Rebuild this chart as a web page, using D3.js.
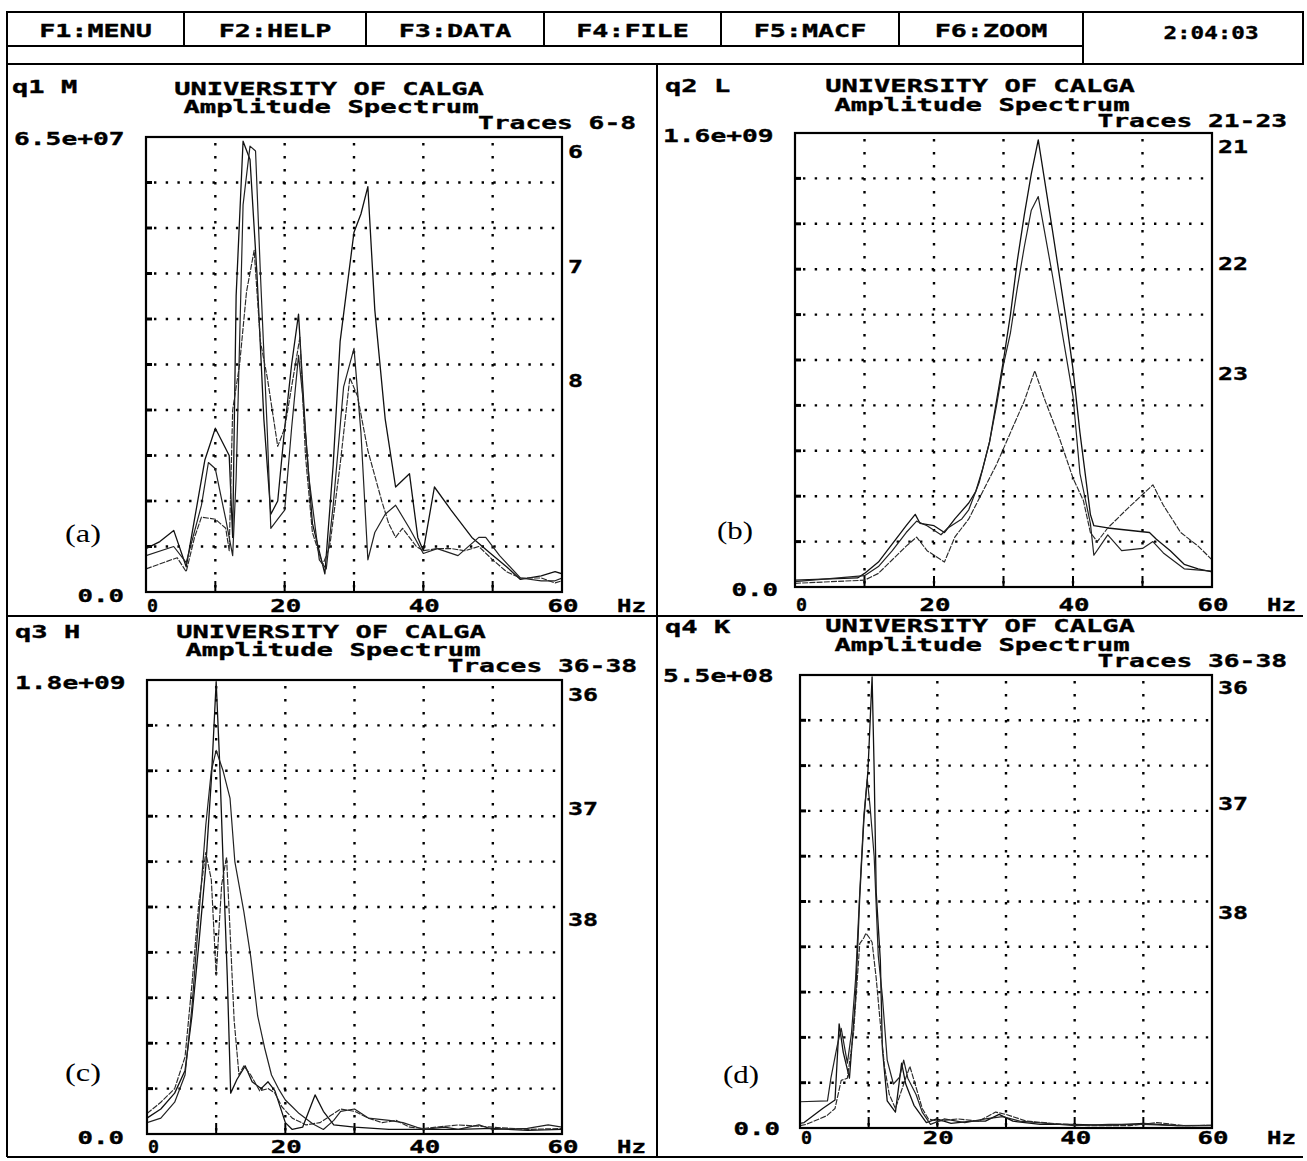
<!DOCTYPE html>
<html>
<head>
<meta charset="utf-8">
<script src="https://cdn.jsdelivr.net/npm/d3@7"></script>
<style>
  body { margin: 0; background: #fff; }
  svg { display: block; }
</style>
</head>
<body>
<svg id="chart" width="1307" height="1161"></svg>
<script>
// ---- labels ----
var menuKeys = ["F1:MENU", "F2:HELP", "F3:DATA", "F4:FILE", "F5:MACF", "F6:ZOOM"];
var clockText = "2:04:03";
var xTickLabels = [0, 20, 40, 60];
var xGridHz = [10, 20, 30, 40, 50];

// ---- q1: traces 6-8, amplitude in 1e6 (full scale 6.5e+07) ----
var q1Trace6 = [[0,6.2],[2,7.2],[4,8.8],[5.8,3.6],[7,10.4],[8.5,18.9],[10,23.4],[12,19.5],[12.5,7.8],[13,42.3],[14,64.4],[15,61.8],[16,45.5],[17,24.7],[18,11.1],[19,13],[20,23.4],[21,32.5],[22,39.7],[23,22.8],[24,9.8],[25.8,2.6],[27,18.2],[28,35.8],[30,51.4],[31,54],[32,57.9],[33,40.3],[34.5,24.7],[36,15],[38,16.9],[39.2,7.8],[40,5.9],[41.6,15],[44,11.7],[47,7.8],[49.7,5.5],[52,3.6],[54,1.8],[57,2.3],[59,2.9],[60,2.6]];
var q1Trace7 = [[0,5.2],[4,6.5],[5.8,4.2],[8,12.4],[9,18.5],[10,17.6],[11.5,10.4],[12.5,5.2],[13,16.3],[14,55.3],[15,63.7],[15.8,63],[16.5,45.5],[17.5,22.8],[18,9.1],[19,10.4],[20,11.7],[21,23.4],[22,33.8],[22.6,28],[23.5,16.3],[25,4.6],[26,3.3],[27,12.4],[28.5,29.3],[30,34.8],[31,22.8],[32,4.6],[33,8.5],[34.5,11.1],[36,12.4],[38,9.1],[40,5.5],[42,6.2],[45,5.2],[48,7.8],[49,7.8],[51,5.2],[54,2],[57,1.6],[59,1.6],[60,2]];
var q1Trace8 = [[0,3.3],[4.5,4.9],[5.8,2.9],[7,7.8],[8,10.7],[10,10.4],[11.5,9.1],[12,5.9],[12.5,26],[13.5,32.5],[14.5,42.9],[15.6,48.8],[16.5,35.8],[17.5,30.6],[19,20.8],[20,23.4],[21,29.3],[22.2,36.4],[23,19.5],[24,8.5],[25.5,3.9],[26.5,6.5],[28,18.2],[29.4,30.6],[30.5,28],[32,20.2],[34,13],[35,9.8],[36,7.8],[37,9.1],[39,6.5],[40,5.9],[42,6.2],[44,6.2],[46,5.9],[48,6.5],[50,4.6],[52,2.9],[54,2],[57,2],[59,1.3],[60,1.6]];

// ---- q2: traces 21-23, amplitude in 1e8 (full scale 1.6e+09) ----
var q2Trace21 = [[0,0.24],[9,0.32],[10,0.48],[12,0.88],[14,1.52],[16,2.16],[17.3,2.56],[18,2.24],[20,2.16],[21.5,1.92],[23,2.4],[25,2.96],[26,3.36],[27,4.16],[28,5.12],[29,6.56],[30,8],[31,9.6],[32,11.52],[33,13.12],[34,14.56],[35,15.76],[37,12.64],[39,9.44],[40,7.68],[41,5.44],[42.5,2.56],[43,2.16],[45,2.08],[48,2],[51,1.92],[52,1.68],[54,1.28],[56,0.8],[58,0.64],[60,0.53]];
var q2Trace22 = [[0,0.19],[10,0.4],[12,0.72],[14,1.28],[16,1.92],[17.5,2.32],[19,2.16],[21,1.84],[22,2.08],[24,2.4],[25,2.72],[26.5,3.68],[28,5.12],[29,6.4],[30,7.84],[31,8.96],[32,10.56],[33,12],[34,13.28],[35,13.76],[37,11.04],[39,8.16],[40,6.72],[41,4],[42.5,2.24],[43,1.12],[45,1.84],[47,1.28],[50,1.36],[51.5,1.6],[53,1.2],[56,0.64],[60,0.56]];
var q2Trace23 = [[0,0.13],[10,0.24],[12,0.48],[14,0.96],[16,1.44],[17.5,1.76],[19,1.28],[21.5,0.88],[23,1.76],[25,2.4],[27,3.36],[29,4.32],[31,5.44],[33,6.56],[34.5,7.62],[36,6.56],[38,5.28],[40,3.84],[41.5,3.04],[42.5,1.92],[43.5,1.6],[45,2.08],[48,2.8],[51.5,3.6],[53,2.88],[55.5,1.92],[58,1.44],[60,0.96]];

// ---- q3: traces 36-38, amplitude in 1e8 (full scale 1.8e+09) ----
var q3Trace36 = [[0,0.63],[2,0.99],[4,1.62],[5.5,2.52],[6.5,4.68],[7.5,7.56],[8.5,10.62],[9.3,14.04],[10,17.93],[10.5,14.76],[11,10.8],[11.6,6.3],[12.1,1.62],[13,2.16],[14.2,2.7],[15.2,2.07],[16.5,1.8],[17.5,2.07],[18.5,1.71],[20,0.45],[21,0.18],[22.5,0.27],[24.3,1.55],[25.5,0.9],[27,0.36],[30,0.27],[35,0.18],[40,0.18],[45,0.18],[50,0.22],[55,0.14],[60,0.18]];
var q3Trace37 = [[0,0.45],[2,0.63],[4,1.26],[5.5,2.34],[6.5,5.04],[7.5,8.64],[8.5,12.24],[9.3,14.4],[10,15.21],[11,14.4],[12,13.32],[12.7,10.8],[14,8.82],[15,7.02],[16,4.68],[17,3.42],[18,2.34],[19,1.8],[20,1.35],[21,1.08],[22,0.81],[24,0.4],[25.5,0.18],[27,0.54],[28,0.9],[30,0.99],[32,0.63],[35,0.54],[37,0.45],[40,0.18],[43,0.27],[45,0.18],[48,0.36],[50,0.18],[55,0.22],[58,0.36],[60,0.27]];
var q3Trace38 = [[0,0.81],[2,1.26],[4,1.8],[5.5,3.06],[6.5,5.94],[7.5,9.18],[8.5,11.16],[9.3,10.08],[10,6.3],[10.8,9.9],[11.5,10.98],[12,8.1],[12.6,4.5],[13.3,2.34],[14,2.7],[15,2.34],[16.3,1.71],[17.5,1.8],[18.5,1.62],[19.5,1.08],[21,0.63],[23,0.36],[25,0.45],[26.5,0.72],[28,0.99],[30,0.9],[32,0.63],[34,0.45],[36,0.54],[38,0.27],[40,0.22],[45,0.36],[50,0.27],[55,0.18],[60,0.22]];

// ---- q4: traces 36-38, amplitude in 1e7 (full scale 5.5e+08) ----
var q4Trace36 = [[0,0.55],[0.6,0.66],[3.3,2.37],[5.1,3.41],[5.7,12.65],[6.3,9.19],[7.2,6.05],[8.1,15.95],[8.7,28.05],[9.3,37.4],[9.9,43.45],[10.5,54.78],[10.8,43.45],[11.1,28.6],[11.7,20.35],[12,9.63],[12.7,3.3],[13.9,1.93],[14.8,7.87],[15.4,5.34],[16.6,2.75],[18.4,0.66],[19.9,1.1],[22,0.55],[25,0.83],[27,0.83],[29,1.65],[31,0.83],[35,0.44],[40,0.44],[45,0.33],[50,0.55],[55,0.28],[60,0.33]];
var q4Trace37 = [[0,3.19],[4,3.3],[4.5,6.05],[5.4,9.9],[6,12.1],[6.9,7.87],[7.5,11.55],[8.1,18.15],[8.7,28.6],[9.3,37.95],[9.8,42.35],[10.2,39.05],[10.8,33],[11.4,20.9],[12,15.95],[12.7,8.25],[13.6,5.34],[14.5,6.16],[15.1,8.25],[15.7,6.05],[16.9,4.07],[17.8,1.93],[19,0.44],[21,1.1],[24,0.66],[27,1.1],[29.5,1.38],[32,0.83],[36,0.55],[40,0.28],[45,0.44],[50,0.44],[55,0.28],[60,0.28]];
var q4Trace38 = [[0,0.28],[0.9,0.44],[3.9,1.49],[5.1,2.37],[6,5.78],[6.9,6.05],[7.8,11.55],[8.7,22.39],[9.3,23.1],[9.6,23.65],[10.1,23.1],[10.5,22.55],[11.1,18.15],[11.7,12.65],[12.3,7.48],[13,4.07],[13.9,2.37],[15.1,5.34],[16,7.48],[16.9,4.95],[17.8,2.37],[18.7,1.1],[20,0.83],[23,1.1],[26,0.83],[28.5,1.93],[30,1.65],[33,0.83],[37,0.55],[42,0.28],[48,0.28],[52,0.66],[56,0.28],[60,0.33]];

var svg = d3.select("#chart");
var MONO = "'DejaVu Sans Mono', 'Liberation Mono', monospace";

// stretched bold mono text, like the old screen font
function txt(g, x, y, s, anchor, cw) {
  cw = cw || 16.3;
  var w = s.length * cw;
  var x0 = anchor === "middle" ? x - w / 2 : anchor === "end" ? x - w : x;
  return g.append("text")
    .attr("x", x0).attr("y", y)
    .attr("font-family", MONO).attr("font-weight", "bold")
    .attr("font-size", 17.5)
    .attr("textLength", w).attr("lengthAdjust", "spacingAndGlyphs")
    .attr("fill", "#000").attr("stroke", "#000").attr("stroke-width", 0.35)
    .text(s);
}

function hline(x1, x2, y, w) {
  svg.append("line").attr("x1", x1).attr("x2", x2).attr("y1", y).attr("y2", y)
    .attr("stroke", "#000").attr("stroke-width", w || 2);
}
function vline(x, y1, y2, w) {
  svg.append("line").attr("x1", x).attr("x2", x).attr("y1", y1).attr("y2", y2)
    .attr("stroke", "#000").attr("stroke-width", w || 2);
}

// ---- menu bar ----
var menuEdges = [7, 184, 366, 544, 721, 899, 1083];
svg.append("rect").attr("x", 7).attr("y", 12).attr("width", 1296).attr("height", 52)
  .attr("fill", "none").attr("stroke", "#000").attr("stroke-width", 2);
hline(7, 1083, 46);
menuEdges.slice(1, -1).forEach(function (x) { vline(x, 12, 46); });
vline(1083, 12, 64);
menuKeys.forEach(function (k, i) {
  txt(svg, (menuEdges[i] + menuEdges[i + 1]) / 2, 37, k, "middle", 16.1);
});
txt(svg, 1211, 39, clockText, "middle", 13.6);

// ---- panel frames ----
vline(7, 64, 1157);
vline(657, 64, 1157);
hline(7, 1303, 616);
hline(7, 1303, 1157);

// ---- panels ----
var panels = [
  { tag: "q1 M", traces: [q1Trace6, q1Trace7, q1Trace8], traceTitle: "Traces 6-8", traceNums: ["6", "7", "8"],
    yTop: 65, topLabel: "6.5e+07", letter: "(a)",
    box: { x0: 146, x1: 562, y0: 137, y1: 592 },
    pos: { tagX: 12, tagY: 93, titleX: 329, titleY: 95, subY: 113, trX: 636, trY: 129, topX: 14, topY: 145,
           numY: [158, 273, 387], zeroX: 124, zeroY: 602, xlabY: 612, letX: 83, letY: 542 } },
  { tag: "q2 L", traces: [q2Trace21, q2Trace22, q2Trace23], traceTitle: "Traces 21-23", traceNums: ["21", "22", "23"],
    yTop: 16, topLabel: "1.6e+09", letter: "(b)",
    box: { x0: 795, x1: 1212, y0: 133, y1: 587 },
    pos: { tagX: 665, tagY: 92, titleX: 980, titleY: 92, subY: 111, trX: 1287, trY: 127, topX: 663, topY: 142,
           numY: [153, 270, 380], zeroX: 778, zeroY: 596, xlabY: 611, letX: 735, letY: 539 } },
  { tag: "q3 H", traces: [q3Trace36, q3Trace37, q3Trace38], traceTitle: "Traces 36-38", traceNums: ["36", "37", "38"],
    yTop: 18, topLabel: "1.8e+09", letter: "(c)",
    box: { x0: 147, x1: 562, y0: 680, y1: 1134 },
    pos: { tagX: 15, tagY: 638, titleX: 331, titleY: 638, subY: 656, trX: 637, trY: 672, topX: 15, topY: 689,
           numY: [701, 815, 926], zeroX: 124, zeroY: 1144, xlabY: 1153, letX: 83, letY: 1081 } },
  { tag: "q4 K", traces: [q4Trace36, q4Trace37, q4Trace38], traceTitle: "Traces 36-38", traceNums: ["36", "37", "38"],
    yTop: 55, topLabel: "5.5e+08", letter: "(d)",
    box: { x0: 800, x1: 1212, y0: 675, y1: 1128 },
    pos: { tagX: 665, tagY: 633, titleX: 980, titleY: 632, subY: 651, trX: 1287, trY: 667, topX: 663, topY: 682,
           numY: [694, 810, 919], zeroX: 780, zeroY: 1135, xlabY: 1144, letX: 741, letY: 1083 } }
];

var traceStyles = [
  { stroke: "#111", width: 1.3, dash: null },
  { stroke: "#222", width: 1.2, dash: null },
  { stroke: "#2a2a2a", width: 1.15, dash: "6,1.2" }
];

panels.forEach(function (p, pi) {
  var b = p.box, q = p.pos;
  var g = svg.append("g");
  var x = d3.scaleLinear().domain([0, 60]).range([b.x0, b.x1]);
  var y = d3.scaleLinear().domain([0, p.yTop]).range([b.y1, b.y0]);
  var yDivs = d3.range(1, 10).map(function (i) { return p.yTop * i / 10; });

  // dotted grid
  g.selectAll(".hg").data(yDivs).enter().append("line")
    .attr("x1", b.x0 + 8).attr("x2", b.x1)
    .attr("y1", function (d) { return y(d); }).attr("y2", function (d) { return y(d); })
    .attr("stroke", "#000").attr("stroke-width", 2.4).attr("stroke-dasharray", "2.4,9.3");
  g.selectAll(".vg").data(xGridHz).enter().append("line")
    .attr("x1", function (d) { return x(d); }).attr("x2", function (d) { return x(d); })
    .attr("y1", b.y0 + 6).attr("y2", b.y1)
    .attr("stroke", "#000").attr("stroke-width", 2.4).attr("stroke-dasharray", "2.4,10.6");
  // left ticks
  g.selectAll(".lt").data(yDivs).enter().append("line")
    .attr("x1", b.x0).attr("x2", b.x0 + 6)
    .attr("y1", function (d) { return y(d); }).attr("y2", function (d) { return y(d); })
    .attr("stroke", "#000").attr("stroke-width", 3);
  // bottom ticks
  g.selectAll(".bt").data(xGridHz).enter().append("line")
    .attr("x1", function (d) { return x(d); }).attr("x2", function (d) { return x(d); })
    .attr("y1", b.y1 - 11).attr("y2", b.y1)
    .attr("stroke", "#000").attr("stroke-width", 2);

  // traces
  var clipId = "clip" + pi;
  svg.append("clipPath").attr("id", clipId).append("rect")
    .attr("x", b.x0).attr("y", b.y0).attr("width", b.x1 - b.x0).attr("height", b.y1 - b.y0);
  var line = d3.line().x(function (d) { return x(d[0]); }).y(function (d) { return y(d[1]); });
  p.traces.forEach(function (t, ti) {
    var st = traceStyles[ti];
    g.append("path").datum(t).attr("d", line)
      .attr("clip-path", "url(#" + clipId + ")")
      .attr("fill", "none").attr("stroke", st.stroke).attr("stroke-width", st.width)
      .attr("stroke-linejoin", "round")
      .attr("stroke-dasharray", st.dash);
  });

  // plot box
  g.append("rect").attr("x", b.x0).attr("y", b.y0)
    .attr("width", b.x1 - b.x0).attr("height", b.y1 - b.y0)
    .attr("fill", "none").attr("stroke", "#000").attr("stroke-width", 2.2);

  // texts
  txt(g, q.tagX, q.tagY, p.tag, "start");
  txt(g, q.titleX, q.titleY, "UNIVERSITY OF CALGA", "middle");
  txt(g, q.titleX + 2, q.subY, "Amplitude Spectrum", "middle", 16.4);
  txt(g, q.trX, q.trY, p.traceTitle, "end", 15.8);
  txt(g, q.topX, q.topY, p.topLabel, "start", 15.8);
  p.traceNums.forEach(function (n, i) { txt(g, b.x1 + 6, q.numY[i], n, "start", 15); });
  txt(g, q.zeroX, q.zeroY, "0.0", "end", 15.5);
  xTickLabels.forEach(function (v) {
    if (v === 0) txt(g, x(v) + 1, q.xlabY, String(v), "start", 11);
    else txt(g, x(v) + 1, q.xlabY, String(v), "middle", 15.5);
  });
  txt(g, b.x1 + 55, q.xlabY, "Hz", "start", 14.5);

  g.append("text").attr("x", q.letX - 18).attr("y", q.letY)
    .attr("font-family", "'Liberation Serif', 'Times New Roman', serif")
    .attr("font-size", 26).attr("textLength", 36).attr("lengthAdjust", "spacingAndGlyphs")
    .text(p.letter);
});
</script>
</body>
</html>
